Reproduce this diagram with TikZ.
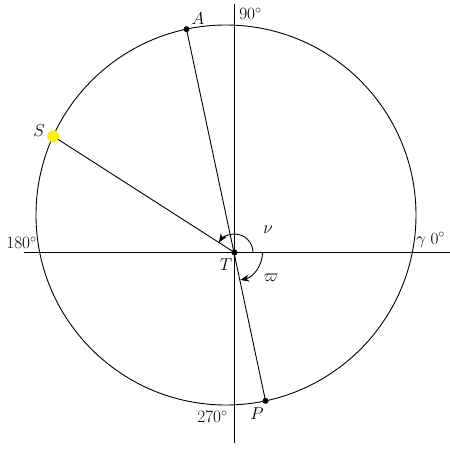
\documentclass[tikz,border=0pt]{standalone}
\usetikzlibrary{arrows.meta,calc}
\begin{document}
\begin{tikzpicture}[x=1pt,y=1pt,line width=0.9pt,
  lbl/.style={font=\fontsize{17.5}{20}\selectfont, inner sep=0pt},
  dot/.style={circle,fill=black,inner sep=0pt,minimum size=6pt},
  sun/.style={circle,fill=yellow,inner sep=0pt,minimum size=12pt},
  arr/.style={-{Stealth[length=9pt,width=7pt]}}]
\useasboundingbox (-234.5,-195.5) rectangle (215.5,252.5);
\coordinate (T) at (0,0);
\coordinate (C) at (-8.5,37.5);
\draw (C) circle[radius=190];
\coordinate (hl) at (-210,0);
\coordinate (hr) at (215.5,0);
\coordinate (vt) at (0,248.5);
\coordinate (vb) at (0,-190.5);
\draw (hl) -- (hr);
\draw (vt) -- (vb);
\coordinate (Sc) at ($(C)+(155.5:190)$);
\node[dot] (A) at ($(C)+(102:190)$) {};
\node[dot] (P) at ($(C)+(282:190)$) {};
\draw (A.center) -- (P.center);
\draw (Sc) -- (T);
\node[sun] (S) at (Sc) {};
\node[dot] (Td) at (T) {};
\coordinate (nu0) at (0:18.5);
\draw[arr] (nu0) arc[start angle=0,end angle=147.3,radius=18.5];
\coordinate (om0) at (0:28);
\draw[arr] (om0) arc[start angle=0,end angle=-78.2,radius=28];
\node[lbl] (lA) at (-36.5,233.5) {$A$};
\node[lbl] (l90) at (16,239) {$90^\circ$};
\node[lbl] (lS) at (-195.5,121.5) {$S$};
\node[lbl] (l180) at (-213,10) {$180^\circ$};
\node[lbl] (l0) at (196,12.5) {$\gamma\;0^\circ$};
\node[lbl] (l270) at (-22,-164) {$270^\circ$};
\node[lbl] (lP) at (22.5,-161.5) {$P$};
\node[lbl] (lT) at (-8.5,-12.5) {$T$};
\node[lbl] (lnu) at (33.5,22.5) {$\nu$};
\node[lbl] (lom) at (36.5,-25.5) {$\varpi$};
\end{tikzpicture}
\end{document}
